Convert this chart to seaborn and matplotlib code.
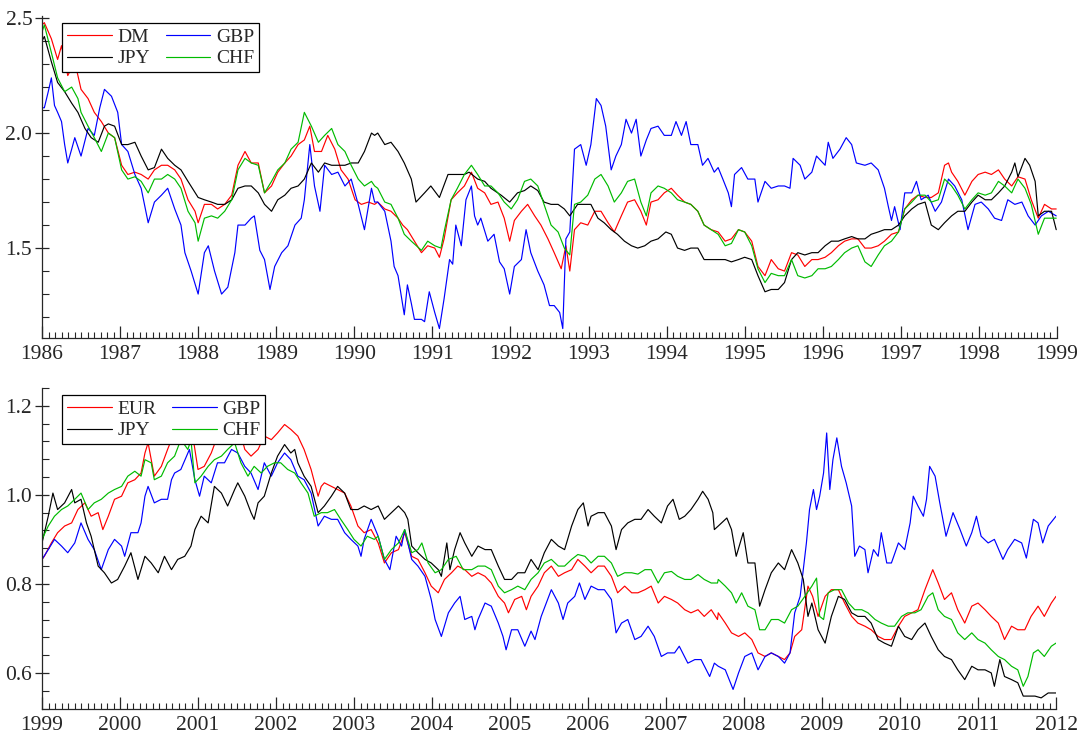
import numpy as np
import pandas as pd
import matplotlib
matplotlib.use("Agg")
import matplotlib.pyplot as plt
import seaborn as sns
from matplotlib.ticker import MultipleLocator, FormatStrFormatter

# ---------------- Top panel (1986-1999) ----------------
dm_t = [1986.00,1986.03,1986.12,1986.20,1986.25,1986.33,1986.42,1986.50,1986.59,1986.67,1986.76,1986.85,1986.93,
        1987.02,1987.10,1987.19,1987.27,1987.36,1987.44,1987.53,1987.61,1987.70,1987.78,1987.87,1987.96,
        1988.00,1988.08,1988.17,1988.25,1988.34,1988.43,1988.51,1988.60,1988.68,1988.77,1988.85,1988.94,
        1989.02,1989.11,1989.19,1989.28,1989.36,1989.43,1989.49,1989.58,1989.66,1989.75,1989.83,1989.92,
        1990.01,1990.09,1990.18,1990.26,1990.30,1990.39,1990.47,1990.56,1990.62,1990.68,1990.77,1990.86,1990.94,
        1991.03,1991.09,1991.15,1991.24,1991.32,1991.41,1991.50,1991.58,1991.67,1991.75,1991.84,1991.92,1991.99,
        1992.05,1992.14,1992.22,1992.31,1992.39,1992.48,1992.56,1992.65,1992.71,1992.76,1992.82,1992.90,1992.99,
        1993.08,1993.16,1993.25,1993.33,1993.42,1993.50,1993.59,1993.67,1993.74,1993.80,1993.89,1993.97,
        1994.06,1994.14,1994.23,1994.31,1994.40,1994.48,1994.57,1994.66,1994.75,1994.83,1994.92,
        1995.00,1995.09,1995.17,1995.26,1995.34,1995.43,1995.51,1995.60,1995.68,1995.77,1995.86,1995.94,
        1996.03,1996.11,1996.20,1996.28,1996.37,1996.45,1996.54,1996.62,1996.71,1996.79,1996.88,1996.97,
        1997.05,1997.14,1997.22,1997.31,1997.39,1997.48,1997.56,1997.61,1997.65,1997.73,1997.82,1997.91,1997.99,
        1998.08,1998.16,1998.25,1998.33,1998.42,1998.50,1998.59,1998.67,1998.76,1998.84,1998.93,1998.99]
dm_v = [2.47,2.48,2.41,2.32,2.38,2.25,2.31,2.19,2.15,2.09,2.05,2.00,1.98,
        1.86,1.82,1.83,1.82,1.80,1.84,1.86,1.86,1.84,1.80,1.71,1.66,
        1.61,1.69,1.69,1.67,1.69,1.73,1.86,1.92,1.87,1.87,1.74,1.77,
        1.83,1.87,1.90,1.95,1.97,2.03,1.92,1.92,1.99,1.93,1.84,1.80,
        1.71,1.69,1.70,1.69,1.70,1.67,1.66,1.63,1.60,1.58,1.53,1.48,1.51,
        1.50,1.46,1.54,1.71,1.74,1.77,1.83,1.76,1.74,1.69,1.70,1.63,1.53,
        1.62,1.66,1.69,1.64,1.60,1.54,1.48,1.41,1.51,1.40,1.58,1.61,1.60,
        1.66,1.66,1.61,1.57,1.64,1.70,1.71,1.66,1.60,1.70,1.71,1.74,
        1.76,1.73,1.70,1.69,1.66,1.60,1.58,1.57,1.53,1.54,1.58,
        1.57,1.53,1.42,1.38,1.45,1.41,1.40,1.48,1.47,1.42,1.45,1.45,
        1.46,1.48,1.51,1.53,1.54,1.54,1.50,1.50,1.51,1.53,1.56,1.57,
        1.67,1.71,1.73,1.72,1.72,1.74,1.86,1.87,1.83,1.79,1.73,1.79,1.82,
        1.83,1.82,1.84,1.80,1.77,1.81,1.80,1.71,1.63,1.69,1.67,1.67]

jpy86_t = [1986.00,1986.03,1986.12,1986.20,1986.29,1986.38,1986.46,1986.55,1986.63,1986.72,1986.80,1986.85,1986.93,
           1987.02,1987.10,1987.19,1987.27,1987.36,1987.44,1987.53,1987.61,1987.70,1987.78,1987.87,
           1988.00,1988.08,1988.17,1988.25,1988.34,1988.43,1988.51,1988.60,1988.68,1988.77,1988.85,1988.94,
           1989.02,1989.11,1989.19,1989.28,1989.36,1989.45,1989.54,1989.62,1989.71,1989.79,1989.88,1989.96,
           1990.05,1990.13,1990.22,1990.26,1990.30,1990.39,1990.47,1990.56,1990.64,1990.73,1990.79,1990.90,1990.98,
           1991.09,1991.20,1991.32,1991.41,1991.47,1991.58,1991.67,1991.75,1991.88,1991.99,
           1992.09,1992.18,1992.26,1992.35,1992.43,1992.52,1992.61,1992.69,1992.76,1992.86,1992.95,
           1993.03,1993.12,1993.20,1993.29,1993.37,1993.46,1993.55,1993.63,1993.72,1993.80,1993.89,1993.99,
           1994.06,1994.14,1994.23,1994.31,1994.40,1994.48,1994.57,1994.66,1994.75,1994.83,1994.92,
           1995.00,1995.09,1995.17,1995.26,1995.34,1995.43,1995.51,1995.60,1995.68,1995.77,1995.86,1995.94,
           1996.03,1996.11,1996.20,1996.28,1996.37,1996.45,1996.54,1996.62,1996.71,1996.79,1996.88,1996.97,
           1997.05,1997.14,1997.22,1997.31,1997.39,1997.48,1997.56,1997.65,1997.73,1997.82,1997.91,1997.99,
           1998.08,1998.16,1998.25,1998.33,1998.42,1998.46,1998.50,1998.59,1998.65,1998.72,1998.76,1998.84,1998.93,1998.99]
jpy86_v = [2.40,2.42,2.31,2.22,2.18,2.13,2.09,2.02,1.98,1.96,2.03,2.04,2.03,
           1.95,1.95,1.96,1.90,1.84,1.85,1.93,1.89,1.86,1.84,1.79,
           1.72,1.71,1.70,1.69,1.69,1.71,1.76,1.77,1.77,1.74,1.69,1.66,
           1.71,1.73,1.76,1.77,1.80,1.87,1.83,1.87,1.86,1.86,1.86,1.87,
           1.87,1.92,2.00,1.99,2.00,1.95,1.96,1.92,1.87,1.80,1.70,1.74,1.77,
           1.72,1.82,1.82,1.82,1.83,1.80,1.79,1.76,1.73,1.70,
           1.74,1.75,1.77,1.75,1.70,1.69,1.69,1.67,1.64,1.69,1.69,
           1.69,1.63,1.61,1.58,1.56,1.53,1.51,1.50,1.51,1.53,1.54,1.57,
           1.56,1.50,1.49,1.50,1.50,1.45,1.45,1.45,1.45,1.44,1.45,
           1.46,1.45,1.38,1.31,1.32,1.32,1.35,1.45,1.48,1.47,1.48,1.48,
           1.51,1.53,1.53,1.54,1.55,1.54,1.54,1.56,1.57,1.58,1.58,1.60,
           1.64,1.67,1.69,1.70,1.60,1.58,1.61,1.64,1.66,1.66,1.70,1.73,
           1.71,1.71,1.74,1.77,1.83,1.87,1.81,1.89,1.86,1.79,1.64,1.66,1.66,1.58]

chf86_t = [1986.00,1986.03,1986.12,1986.20,1986.29,1986.38,1986.46,1986.50,1986.59,1986.67,1986.76,1986.85,1986.93,
           1987.02,1987.10,1987.19,1987.27,1987.36,1987.44,1987.53,1987.61,1987.70,1987.78,1987.87,1987.96,
           1988.00,1988.08,1988.17,1988.25,1988.34,1988.43,1988.51,1988.60,1988.68,1988.77,1988.85,1988.94,
           1989.02,1989.11,1989.19,1989.28,1989.36,1989.45,1989.54,1989.62,1989.71,1989.79,1989.88,1989.96,
           1990.05,1990.13,1990.22,1990.26,1990.30,1990.39,1990.47,1990.56,1990.64,1990.73,1990.86,1990.94,
           1991.03,1991.11,1991.15,1991.24,1991.32,1991.41,1991.50,1991.58,1991.67,1991.75,1991.84,1991.92,
           1992.01,1992.09,1992.18,1992.26,1992.35,1992.43,1992.52,1992.61,1992.69,1992.76,1992.82,1992.90,1992.99,
           1993.08,1993.16,1993.25,1993.33,1993.42,1993.50,1993.59,1993.67,1993.74,1993.80,1993.89,1993.97,
           1994.06,1994.14,1994.23,1994.31,1994.40,1994.48,1994.57,1994.66,1994.75,1994.83,1994.92,
           1995.00,1995.09,1995.17,1995.26,1995.34,1995.43,1995.51,1995.60,1995.68,1995.77,1995.86,1995.94,
           1996.03,1996.11,1996.20,1996.28,1996.37,1996.45,1996.54,1996.62,1996.71,1996.79,1996.88,1996.97,
           1997.05,1997.14,1997.22,1997.31,1997.39,1997.48,1997.56,1997.65,1997.73,1997.82,1997.91,1997.99,
           1998.08,1998.16,1998.25,1998.33,1998.42,1998.50,1998.59,1998.67,1998.76,1998.84,1998.93,1998.99]
chf86_v = [2.44,2.47,2.35,2.24,2.18,2.20,2.15,2.09,2.03,1.98,1.92,2.00,1.98,
           1.84,1.80,1.81,1.79,1.74,1.80,1.80,1.82,1.80,1.76,1.66,1.61,
           1.53,1.63,1.64,1.63,1.66,1.71,1.84,1.89,1.87,1.86,1.74,1.79,
           1.84,1.87,1.93,1.96,2.09,2.03,1.96,1.99,2.02,1.95,1.92,1.86,
           1.80,1.77,1.79,1.77,1.76,1.70,1.69,1.63,1.56,1.53,1.49,1.53,
           1.51,1.50,1.57,1.71,1.76,1.82,1.86,1.82,1.77,1.77,1.74,1.70,
           1.67,1.71,1.79,1.80,1.77,1.69,1.60,1.57,1.50,1.47,1.69,1.70,1.73,
           1.80,1.82,1.77,1.70,1.74,1.79,1.80,1.70,1.64,1.74,1.77,1.76,
           1.74,1.71,1.70,1.69,1.66,1.60,1.58,1.56,1.51,1.52,1.58,
           1.57,1.51,1.41,1.35,1.39,1.38,1.38,1.45,1.38,1.37,1.38,1.41,
           1.41,1.42,1.45,1.48,1.50,1.51,1.44,1.42,1.47,1.51,1.53,1.57,
           1.67,1.70,1.73,1.73,1.70,1.71,1.80,1.77,1.73,1.67,1.71,1.74,
           1.73,1.74,1.79,1.77,1.74,1.80,1.76,1.69,1.56,1.63,1.63,1.63]

gbp86_t = [1986.00,1986.03,1986.08,1986.12,1986.16,1986.20,1986.25,1986.29,1986.33,1986.38,1986.42,1986.50,1986.59,
           1986.67,1986.74,1986.80,1986.89,1986.97,1987.02,1987.10,1987.19,1987.27,1987.36,1987.44,1987.53,1987.61,
           1987.70,1987.78,1987.83,1987.91,1988.00,1988.08,1988.13,1988.21,1988.30,1988.38,1988.47,1988.51,1988.60,
           1988.68,1988.72,1988.79,1988.85,1988.92,1988.98,1989.07,1989.15,1989.24,1989.32,1989.36,1989.43,1989.49,
           1989.56,1989.62,1989.71,1989.79,1989.88,1989.96,1990.05,1990.13,1990.22,1990.26,1990.30,1990.39,1990.47,
           1990.51,1990.56,1990.64,1990.68,1990.73,1990.77,1990.86,1990.90,1990.96,1991.03,1991.09,1991.15,1991.22,
           1991.26,1991.30,1991.37,1991.43,1991.50,1991.54,1991.58,1991.62,1991.71,1991.79,1991.86,1991.92,1991.99,
           1992.05,1992.14,1992.20,1992.26,1992.35,1992.43,1992.50,1992.56,1992.63,1992.67,1992.71,1992.76,1992.82,
           1992.90,1992.97,1993.03,1993.10,1993.16,1993.22,1993.29,1993.35,1993.42,1993.48,1993.55,1993.61,1993.67,
           1993.74,1993.80,1993.89,1993.97,1994.06,1994.12,1994.19,1994.25,1994.31,1994.40,1994.46,1994.53,1994.61,
           1994.66,1994.72,1994.79,1994.83,1994.87,1994.96,1995.04,1995.13,1995.17,1995.26,1995.34,1995.43,1995.51,
           1995.58,1995.62,1995.71,1995.77,1995.86,1995.92,1996.03,1996.07,1996.13,1996.22,1996.30,1996.37,1996.43,
           1996.54,1996.62,1996.71,1996.79,1996.84,1996.88,1996.92,1996.99,1997.05,1997.14,1997.20,1997.26,1997.35,
           1997.44,1997.52,1997.61,1997.69,1997.78,1997.86,1997.95,1998.03,1998.12,1998.20,1998.29,1998.37,1998.46,
           1998.55,1998.63,1998.72,1998.80,1998.89,1998.99]
gbp86_v = [2.11,2.11,2.18,2.24,2.12,2.09,2.05,1.95,1.87,1.93,1.98,1.90,2.02,
           1.99,2.11,2.19,2.16,2.09,1.95,1.92,1.82,1.76,1.61,1.70,1.73,1.76,
           1.67,1.60,1.48,1.40,1.30,1.48,1.51,1.40,1.30,1.33,1.48,1.60,1.60,
           1.63,1.64,1.49,1.45,1.32,1.42,1.48,1.51,1.60,1.63,1.71,1.95,1.77,
           1.66,1.86,1.82,1.83,1.77,1.80,1.69,1.58,1.76,1.70,1.70,1.66,1.53,
           1.42,1.38,1.21,1.34,1.26,1.19,1.19,1.18,1.31,1.22,1.15,1.28,1.45,
           1.43,1.60,1.51,1.71,1.77,1.64,1.60,1.63,1.53,1.56,1.44,1.41,1.30,
           1.42,1.45,1.58,1.48,1.40,1.34,1.25,1.25,1.22,1.15,1.54,1.57,1.93,
           1.95,1.86,1.95,2.15,2.12,2.03,1.84,1.90,1.95,2.06,2.00,2.06,1.90,
           1.97,2.02,2.03,1.99,1.99,2.05,1.99,2.05,1.95,1.95,1.86,1.89,1.83,
           1.85,1.80,1.74,1.68,1.82,1.85,1.80,1.80,1.70,1.79,1.76,1.77,1.77,
           1.76,1.89,1.86,1.80,1.83,1.90,1.86,1.96,1.89,1.93,1.98,1.95,1.87,
           1.86,1.87,1.84,1.76,1.68,1.62,1.68,1.58,1.74,1.74,1.79,1.71,1.73,
           1.66,1.70,1.80,1.77,1.71,1.58,1.69,1.70,1.67,1.63,1.62,1.71,1.69,
           1.70,1.64,1.60,1.64,1.66,1.64]

# ---------------- Bottom panel (1999-2012) ----------------
eur_t = [1999.00,1999.03,1999.12,1999.20,1999.29,1999.38,1999.46,1999.55,1999.63,1999.72,1999.78,1999.85,1999.93,
         2000.02,2000.10,2000.19,2000.27,2000.32,2000.36,2000.44,2000.53,2000.61,2000.66,2000.70,2000.74,2000.81,
         2000.85,2000.89,2000.96,2001.00,2001.08,2001.17,2001.25,2001.34,2001.43,2001.47,2001.51,2001.60,2001.68,
         2001.77,2001.85,2001.94,2002.02,2002.11,2002.19,2002.28,2002.36,2002.45,2002.54,2002.58,2002.62,2002.71,
         2002.79,2002.88,2002.96,2003.05,2003.13,2003.22,
         2003.31,2003.39,2003.48,2003.57,2003.65,2003.74,2003.82,2003.91,2003.99,2004.08,2004.16,2004.25,2004.33,
         2004.42,2004.51,2004.59,2004.68,2004.76,2004.85,2004.93,2004.98,2005.06,2005.15,2005.21,2005.27,2005.36,
         2005.44,2005.53,2005.62,2005.70,2005.79,2005.87,2005.96,2006.04,2006.13,2006.21,2006.30,2006.38,2006.47,
         2006.56,2006.64,2006.73,2006.81,2006.90,2006.98,2007.07,2007.15,2007.24,2007.32,2007.41,2007.49,2007.58,2007.66,
         2007.67,2007.76,2007.84,2007.93,2008.01,2008.10,2008.18,2008.27,2008.35,2008.44,2008.52,2008.59,2008.65,
         2008.74,2008.82,2008.88,2008.95,2009.04,2009.12,2009.21,2009.29,2009.38,2009.46,2009.55,2009.63,2009.72,
         2009.80,2009.89,2009.98,2010.06,2010.15,2010.23,2010.32,2010.42,2010.49,2010.57,2010.66,2010.74,2010.83,
         2010.92,2011.00,2011.09,2011.17,2011.26,2011.34,2011.43,2011.51,2011.60,2011.68,2011.77,2011.85,2011.94,2012.00]
eur_v = [0.855,0.862,0.892,0.915,0.930,0.937,0.967,0.982,0.952,0.960,0.922,0.952,0.990,
         0.997,1.027,1.034,1.049,1.094,1.117,1.042,1.064,1.102,1.124,1.162,1.139,1.199,
         1.162,1.184,1.102,1.057,1.064,1.094,1.132,1.139,1.177,1.184,1.162,1.102,1.087,
         1.102,1.132,1.124,1.139,1.158,1.147,1.132,1.102,1.057,0.997,1.019,1.027,1.019,
         1.012,1.004,0.975,0.930,0.915,0.922,
         0.892,0.847,0.870,0.877,0.915,0.862,0.855,0.825,0.795,0.780,0.810,0.825,0.840,
         0.832,0.817,0.825,0.817,0.802,0.772,0.757,0.735,0.765,0.772,0.742,0.772,0.795,
         0.825,0.840,0.817,0.825,0.832,0.855,0.840,0.825,0.840,0.840,0.817,0.780,0.795,
         0.780,0.780,0.787,0.795,0.757,0.772,0.765,0.757,0.742,0.735,0.742,0.727,0.742,0.720,
         0.735,0.712,0.690,0.682,0.690,0.675,0.645,0.637,0.645,0.637,0.630,0.645,0.682,
         0.697,0.795,0.772,0.727,0.772,0.787,0.787,0.757,0.727,0.712,0.705,0.697,0.682,
         0.675,0.675,0.705,0.727,0.735,0.742,0.787,0.832,0.802,0.765,0.780,0.742,0.712,
         0.750,0.757,0.742,0.727,0.712,0.675,0.705,0.697,0.697,0.727,0.750,0.727,0.757,0.772]

gbp99_t = [1999.00,1999.08,1999.16,1999.25,1999.33,1999.42,1999.50,1999.59,1999.67,1999.76,1999.85,1999.93,
           2000.02,2000.06,2000.14,2000.23,2000.27,2000.32,2000.36,2000.44,2000.53,2000.61,2000.66,2000.70,
           2000.78,2000.89,2000.96,2001.02,2001.08,2001.17,2001.25,2001.34,2001.43,2001.51,2001.60,2001.68,
           2001.77,2001.85,2001.94,2002.02,2002.11,2002.19,2002.28,2002.36,2002.45,2002.54,2002.62,2002.71,
           2002.79,2002.88,2002.96,2003.05,2003.09,2003.13,2003.22,
           2003.31,2003.39,2003.46,2003.54,2003.61,2003.65,2003.74,2003.82,2003.91,2003.99,2004.04,2004.12,
           2004.21,2004.29,2004.36,2004.42,2004.51,2004.55,2004.59,2004.68,2004.76,2004.85,2004.91,2004.95,
           2005.02,2005.10,2005.19,2005.27,2005.32,2005.40,2005.53,2005.62,2005.68,2005.74,2005.83,2005.89,
           2005.96,2006.04,2006.13,2006.21,2006.30,2006.36,2006.43,2006.51,2006.60,2006.68,2006.77,2006.85,
           2006.94,2007.02,2007.11,2007.17,2007.28,2007.37,2007.45,2007.56,2007.62,
           2007.67,2007.76,2007.86,2007.93,2008.01,2008.10,2008.18,2008.27,2008.35,2008.44,2008.52,2008.59,
           2008.65,2008.72,2008.80,2008.84,2008.89,2008.93,2008.97,2009.02,2009.06,2009.10,2009.14,2009.19,
           2009.25,2009.31,2009.38,2009.42,2009.48,2009.55,2009.59,2009.66,2009.72,2009.76,2009.83,2009.89,
           2009.98,2010.06,2010.13,2010.17,2010.23,2010.30,2010.34,2010.38,2010.45,2010.51,2010.59,2010.68,
           2010.77,2010.85,2010.92,2010.98,2011.04,2011.13,2011.21,2011.32,2011.38,2011.47,2011.56,2011.62,
           2011.71,2011.77,2011.83,2011.90,2012.00]
gbp99_v = [0.855,0.877,0.900,0.885,0.870,0.892,0.937,0.900,0.877,0.832,0.877,0.900,
           0.885,0.862,0.915,0.915,0.937,0.997,1.019,0.982,0.990,0.990,1.034,1.049,
           1.057,1.102,1.034,0.997,1.042,1.027,1.072,1.072,1.102,1.094,1.064,1.049,
           1.012,1.072,1.042,1.072,1.094,1.079,1.042,1.034,1.004,0.930,0.952,0.945,
           0.945,0.915,0.900,0.885,0.862,0.900,0.945,
           0.907,0.855,0.832,0.907,0.885,0.922,0.855,0.840,0.817,0.765,0.720,0.682,
           0.735,0.757,0.772,0.720,0.727,0.697,0.720,0.757,0.750,0.712,0.682,0.652,
           0.697,0.697,0.660,0.694,0.675,0.727,0.787,0.757,0.720,0.757,0.772,0.802,
           0.765,0.795,0.787,0.787,0.765,0.690,0.712,0.720,0.675,0.682,0.705,0.682,
           0.637,0.645,0.645,0.660,0.622,0.630,0.630,0.592,0.622,
           0.615,0.607,0.563,0.600,0.637,0.645,0.607,0.637,0.645,0.637,0.622,0.645,
           0.735,0.772,0.892,0.967,1.012,0.967,0.997,1.049,1.139,1.012,1.079,1.128,
           1.064,1.027,0.975,0.862,0.885,0.877,0.825,0.877,0.862,0.915,0.847,0.847,
           0.892,0.877,0.937,0.997,0.975,0.952,0.990,1.064,1.042,0.982,0.907,0.960,
           0.922,0.885,0.915,0.952,0.907,0.892,0.900,0.855,0.877,0.900,0.892,0.858,
           0.945,0.937,0.892,0.930,0.952]

jpy99_t = [1999.00,1999.08,1999.14,1999.20,1999.29,1999.38,1999.42,1999.50,1999.57,1999.63,1999.72,1999.80,
           1999.89,1999.97,2000.06,2000.14,2000.23,2000.32,2000.40,2000.49,2000.57,2000.66,2000.74,2000.83,
           2000.91,2000.96,2001.04,2001.13,2001.21,2001.30,2001.38,2001.47,2001.51,2001.60,2001.68,2001.72,
           2001.77,2001.85,2001.94,2002.02,2002.11,2002.19,2002.24,2002.28,2002.36,2002.45,2002.54,2002.62,
           2002.71,2002.79,2002.88,2002.96,2003.05,2003.13,2003.22,
           2003.31,2003.39,2003.48,2003.57,2003.65,2003.69,2003.74,2003.82,2003.91,2003.99,2004.08,2004.12,
           2004.19,2004.23,2004.29,2004.36,2004.42,2004.51,2004.59,2004.68,2004.76,2004.85,2004.93,2005.02,
           2005.10,2005.19,2005.27,2005.36,2005.44,2005.53,2005.62,2005.70,2005.79,2005.87,2005.94,2006.00,
           2006.04,2006.13,2006.21,2006.30,2006.36,2006.43,2006.51,2006.60,2006.68,2006.77,2006.85,2006.94,
           2007.02,2007.09,2007.17,2007.24,2007.32,2007.41,2007.47,2007.54,2007.60,2007.62,
           2007.67,2007.76,2007.78,2007.84,2007.90,2007.99,2008.05,2008.14,2008.20,2008.27,2008.35,2008.44,
           2008.52,2008.61,2008.69,2008.76,2008.82,2008.87,2008.95,2009.04,2009.12,2009.21,2009.29,2009.38,
           2009.46,2009.55,2009.63,2009.72,2009.80,2009.89,2009.98,2010.06,2010.15,2010.23,2010.32,2010.40,
           2010.49,2010.57,2010.66,2010.74,2010.83,2010.92,2011.00,2011.09,2011.17,2011.21,2011.28,2011.34,
           2011.43,2011.51,2011.58,2011.64,2011.73,2011.81,2011.90,2012.00]
jpy99_v = [0.892,0.952,1.004,0.967,0.982,1.012,0.982,0.990,0.937,0.907,0.840,0.825,
           0.802,0.810,0.840,0.870,0.810,0.862,0.847,0.825,0.862,0.832,0.855,0.862,
           0.885,0.922,0.952,0.937,1.019,1.004,0.975,1.012,1.027,0.997,0.960,0.945,
           0.982,0.997,1.049,1.087,1.113,1.094,1.102,1.072,1.042,1.019,0.960,0.975,
           0.997,1.019,1.004,0.967,0.967,0.975,0.967,
           0.975,0.945,0.960,0.975,0.960,0.945,0.885,0.870,0.855,0.847,0.832,0.817,
           0.892,0.832,0.877,0.915,0.892,0.862,0.885,0.877,0.877,0.840,0.810,0.810,
           0.825,0.825,0.855,0.832,0.870,0.900,0.885,0.877,0.930,0.967,0.982,0.930,
           0.952,0.960,0.960,0.930,0.877,0.922,0.937,0.945,0.945,0.967,0.952,0.937,
           0.975,0.990,0.945,0.952,0.967,0.990,1.008,0.990,0.960,0.922,
           0.930,0.945,0.948,0.922,0.862,0.915,0.847,0.847,0.750,0.787,0.825,0.847,
           0.832,0.877,0.847,0.810,0.727,0.757,0.697,0.667,0.727,0.772,0.765,0.735,
           0.727,0.727,0.712,0.675,0.667,0.660,0.705,0.682,0.675,0.697,0.712,0.682,
           0.652,0.637,0.630,0.607,0.585,0.615,0.607,0.607,0.600,0.570,0.630,0.592,
           0.585,0.578,0.548,0.548,0.548,0.544,0.555,0.555]

chf99_t = [1999.00,1999.08,1999.16,1999.25,1999.33,1999.42,1999.50,1999.59,1999.67,1999.76,1999.85,1999.93,
           2000.02,2000.10,2000.19,2000.27,2000.32,2000.40,2000.44,2000.53,2000.61,2000.70,2000.78,2000.87,
           2000.91,2000.96,2001.04,2001.13,2001.21,2001.30,2001.38,2001.47,2001.55,2001.64,2001.72,2001.81,
           2001.89,2001.98,2002.06,2002.15,2002.24,2002.32,2002.41,2002.49,2002.58,2002.66,2002.75,2002.83,
           2002.92,2003.00,2003.09,2003.17,2003.26,
           2003.31,2003.39,2003.48,2003.57,2003.65,2003.74,2003.82,2003.87,2003.95,2004.04,2004.12,2004.21,
           2004.31,2004.40,2004.51,2004.59,2004.68,2004.76,2004.85,2004.93,2005.02,2005.10,2005.19,2005.27,
           2005.36,2005.44,2005.53,2005.62,2005.70,2005.79,2005.87,2005.96,2006.04,2006.13,2006.21,2006.30,
           2006.38,2006.47,2006.56,2006.64,2006.73,2006.81,2006.90,2006.98,2007.07,2007.15,2007.24,2007.32,
           2007.41,2007.49,2007.58,2007.66,
           2007.67,2007.76,2007.84,2007.90,2007.97,2008.05,2008.14,2008.20,2008.27,2008.35,2008.44,2008.52,
           2008.61,2008.69,2008.78,2008.87,2008.93,2008.97,2009.02,2009.08,2009.16,2009.25,2009.34,2009.42,
           2009.51,2009.59,2009.68,2009.76,2009.85,2009.93,2010.02,2010.10,2010.19,2010.27,2010.36,2010.42,
           2010.49,2010.57,2010.66,2010.74,2010.83,2010.92,2011.00,2011.09,2011.17,2011.26,2011.34,2011.43,
           2011.51,2011.58,2011.64,2011.71,2011.77,2011.85,2011.94,2012.00]
chf99_v = [0.900,0.930,0.952,0.967,0.975,0.990,1.004,0.967,0.982,0.990,1.004,1.012,
           1.019,1.042,1.053,1.042,1.079,1.072,1.034,1.042,1.072,1.087,1.124,1.102,
           1.124,1.027,1.042,1.064,1.079,1.087,1.102,1.117,1.072,1.042,1.064,1.049,
           1.064,1.072,1.072,1.057,1.049,1.027,1.004,0.952,0.960,0.960,0.967,0.945,
           0.922,0.900,0.885,0.907,0.900,
           0.907,0.855,0.877,0.892,0.922,0.870,0.877,0.892,0.847,0.825,0.832,0.855,
           0.862,0.832,0.832,0.840,0.840,0.832,0.795,0.780,0.787,0.795,0.787,0.810,
           0.825,0.847,0.855,0.840,0.840,0.855,0.866,0.862,0.847,0.862,0.862,0.847,
           0.817,0.825,0.825,0.822,0.832,0.832,0.802,0.825,0.828,0.817,0.810,0.810,
           0.821,0.810,0.802,0.802,
           0.810,0.795,0.780,0.757,0.780,0.750,0.742,0.697,0.697,0.720,0.720,0.712,
           0.742,0.750,0.772,0.795,0.813,0.727,0.720,0.780,0.787,0.787,0.757,0.742,
           0.742,0.735,0.720,0.712,0.705,0.705,0.727,0.735,0.735,0.742,0.772,0.780,
           0.742,0.727,0.720,0.690,0.675,0.690,0.675,0.667,0.652,0.637,0.630,0.615,
           0.607,0.570,0.592,0.645,0.652,0.637,0.660,0.667]

# ---------------- build long-form tables ----------------
def long_form(series):
    frames = [pd.DataFrame({"year": t, "value": v, "series": name}) for name, t, v in series]
    return pd.concat(frames, ignore_index=True)

top_df = long_form([("DM", dm_t, dm_v), ("GBP", gbp86_t, gbp86_v),
                    ("JPY", jpy86_t, jpy86_v), ("CHF", chf86_t, chf86_v)])
bot_df = long_form([("EUR", eur_t, eur_v), ("GBP", gbp99_t, gbp99_v),
                    ("JPY", jpy99_t, jpy99_v), ("CHF", chf99_t, chf99_v)])

GREEN = "#00bb00"
top_pal = {"DM": "#ff0000", "GBP": "#0000ff", "JPY": "#000000", "CHF": GREEN}
bot_pal = {"EUR": "#ff0000", "GBP": "#0000ff", "JPY": "#000000", "CHF": GREEN}

sns.set_style("ticks")
plt.rcParams["font.family"] = ["Liberation Serif", "DejaVu Serif"]
plt.rcParams["axes.linewidth"] = 0.9

W, H = 1086, 740
fig = plt.figure(figsize=(W / 100, H / 100), dpi=100)
ax1 = fig.add_axes([42 / W, 1 - 338 / H, 1015 / W, 322 / H])
ax2 = fig.add_axes([42 / W, 1 - 709 / H, 1014 / W, 321 / H])


def draw(ax, df, pal, order, leg_order, xlim, ylim, ymaj, ymin, yfmt):
    sns.lineplot(data=df, x="year", y="value", hue="series", hue_order=order,
                 palette=pal, estimator=None, linewidth=0.85, ax=ax, legend=True)
    ax.set_xlim(*xlim)
    ax.set_ylim(*ylim)
    ax.set_xlabel("")
    ax.set_ylabel("")
    for s in ("top", "right"):
        ax.spines[s].set_visible(False)
    ax.xaxis.set_major_locator(MultipleLocator(1))
    ax.xaxis.set_minor_locator(MultipleLocator(1 / 12))
    ax.xaxis.set_major_formatter(FormatStrFormatter("%d"))
    ax.yaxis.set_major_locator(MultipleLocator(ymaj))
    ax.yaxis.set_minor_locator(MultipleLocator(ymin))
    ax.yaxis.set_major_formatter(FormatStrFormatter(yfmt))
    ax.tick_params(axis="x", which="major", direction="in", length=9, width=0.9,
                   labelsize=15.5, pad=5)
    ax.tick_params(axis="x", which="minor", direction="in", length=4, width=0.8)
    ax.tick_params(axis="y", which="major", direction="inout", length=10, width=0.9,
                   labelsize=15.5, pad=2)
    ax.tick_params(axis="y", which="minor", direction="in", length=5, width=0.8)
    handles, labels = ax.get_legend_handles_labels()
    hmap = dict(zip(labels, handles))
    leg = ax.legend([hmap[k] for k in leg_order], leg_order, ncol=2,
                    loc="upper left", bbox_to_anchor=(0.0197, 0.977),
                    borderaxespad=0, fontsize=14, frameon=True, fancybox=False,
                    edgecolor="black", framealpha=1, handlelength=2.3,
                    handletextpad=0.3, columnspacing=0.8, labelspacing=0.2,
                    borderpad=0.25)
    leg.get_frame().set_linewidth(0.9)


draw(ax1, top_df, top_pal, ["DM", "GBP", "JPY", "CHF"], ["DM", "JPY", "GBP", "CHF"],
     (1986, 1999), (1.109, 2.509), 0.5, 0.1, "%.1f")
draw(ax2, bot_df, bot_pal, ["EUR", "GBP", "JPY", "CHF"], ["EUR", "JPY", "GBP", "CHF"],
     (1999, 2012), (0.519, 1.240), 0.2, 0.04, "%.1f")

fig.savefig("out.png", dpi=100)
